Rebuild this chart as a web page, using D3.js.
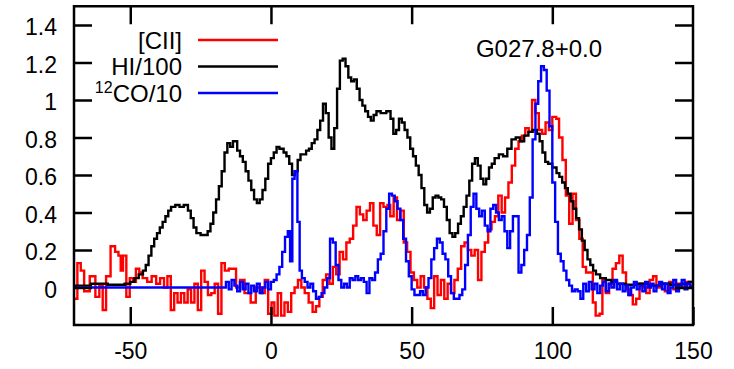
<!DOCTYPE html>
<html>
<head>
<meta charset="utf-8">
<script src="https://cdn.jsdelivr.net/npm/d3@7"></script>
<style>
  body { margin: 0; background: #fff; }
  text { font-family: "Liberation Sans", Arial, sans-serif; fill: #000; }
</style>
</head>
<body>
<svg id="chart"></svg>
<script>
// tick values / labels
const xTicks = [-50, 0, 50, 100, 150];
const xTickLabels = ["-50", "0", "50", "100", "150"];
const yTicks = [0, 0.2, 0.4, 0.6, 0.8, 1, 1.2, 1.4];
const yTickLabels = ["0", "0.2", "0.4", "0.6", "0.8", "1", "1.2", "1.4"];
const title = "G027.8+0.0";

// HI/100 (black) - channel start velocity, value
const hiVel = [-70, -64, -58, -52, -50, -48.5, -47, -45.5, -44.5, -43.5, -42.5, -41.5, -40.5, -39.5, -38.5, -37.5, -36.5, -35.5, -34, -32.5, -31, -29.5, -28.5, -27.5, -26.5, -25, -23.5, -22.5, -21.5, -20.5, -19.5, -18.5, -17.5, -16.5, -15.5, -14.5, -13.5, -12, -11, -10, -9, -8, -7, -6, -5, -4, -3, -2, -1, 0, 1, 2, 3, 4.5, 5.5, 6.5, 7.5, 8.5, 9.5, 10.5, 11.5, 12.5, 13.5, 14.5, 15.5, 16.5, 17.5, 18.5, 19.5, 20.5, 21.5, 22.5, 23.5, 24.5, 25.5, 26.5, 27.5, 28.5, 29.5, 30.5, 31.5, 32.5, 33.5, 34.5, 35.5, 36.5, 37.5, 39, 41, 42.5, 43.5, 44.5, 45.5, 46.5, 47.5, 48.5, 49.5, 50.5, 51.5, 52.5, 53.5, 54.5, 55.5, 56.5, 57.5, 58.5, 59.5, 60.5, 61.5, 62.5, 63.5, 64.5, 65.5, 66.5, 67.5, 68.5, 69.5, 70.5, 71.5, 72.5, 73.5, 74.5, 75.5, 76.5, 77.5, 78.5, 79.5, 81, 82.5, 84, 85.5, 87, 88.5, 90, 91.5, 93, 94.5, 95.5, 96.5, 97.5, 98.5, 100, 101.5, 102.5, 103.5, 104.5, 105.5, 106.5, 107.5, 108.5, 109.5, 110.5, 111.5, 112.5, 113.5, 114.5, 115.5, 117, 119, 121, 123, 126, 130, 134, 138, 142, 146, 148.5, 150];
const hiVal = [0.01, 0.02, 0.015, 0.02, 0.03, 0.05, 0.07, 0.09, 0.12, 0.17, 0.22, 0.26, 0.29, 0.32, 0.35, 0.38, 0.41, 0.43, 0.44, 0.43, 0.44, 0.41, 0.37, 0.32, 0.29, 0.28, 0.28, 0.30, 0.34, 0.40, 0.47, 0.54, 0.62, 0.72, 0.77, 0.75, 0.78, 0.73, 0.70, 0.67, 0.62, 0.57, 0.52, 0.47, 0.45, 0.47, 0.52, 0.58, 0.66, 0.69, 0.72, 0.75, 0.74, 0.72, 0.70, 0.66, 0.60, 0.62, 0.68, 0.71, 0.71, 0.73, 0.74, 0.77, 0.79, 0.84, 0.89, 0.98, 0.93, 0.80, 0.74, 0.85, 1.06, 1.21, 1.22, 1.18, 1.12, 1.10, 1.11, 1.06, 1.00, 0.97, 0.94, 0.91, 0.89, 0.92, 0.94, 0.93, 0.94, 0.90, 0.82, 0.84, 0.90, 0.88, 0.84, 0.80, 0.74, 0.70, 0.65, 0.60, 0.53, 0.44, 0.40, 0.42, 0.48, 0.49, 0.48, 0.47, 0.43, 0.36, 0.29, 0.27, 0.29, 0.34, 0.38, 0.43, 0.49, 0.57, 0.66, 0.69, 0.65, 0.58, 0.55, 0.58, 0.64, 0.66, 0.69, 0.71, 0.70, 0.74, 0.79, 0.80, 0.78, 0.81, 0.83, 0.84, 0.82, 0.78, 0.72, 0.67, 0.66, 0.64, 0.61, 0.59, 0.56, 0.53, 0.50, 0.46, 0.42, 0.37, 0.31, 0.25, 0.20, 0.15, 0.12, 0.09, 0.07, 0.05, 0.04, 0.03, 0.02, 0.015, 0.02, 0.01, 0.02, 0.015, 0.02, 0.03, 0.03];

// 12CO/10 (blue)
const coVel = [-70, -16, -15, -14, -13, -12, -11, -10, -9, -8, -7, -6, -5, -4, -3, -2, -1, 0, 1, 2, 3, 4, 5, 6, 6.8, 7.6, 8.4, 9.4, 10.2, 11, 12, 13, 14, 15, 16, 17, 18, 19, 20, 21, 22, 23, 24, 25, 26, 27, 28, 29, 30, 31, 32, 33, 34, 35, 36, 37, 38, 39, 40, 41, 42, 43, 44, 45, 46, 47, 48, 49, 50, 51, 52, 53, 54, 55, 56, 57, 58, 59, 60, 61, 62, 63, 64, 65, 66, 67, 68, 69, 70, 71, 72, 73, 74, 75, 76, 77, 78, 79, 80, 81, 82, 83, 84, 85, 86, 87, 88, 89, 90, 91, 92, 93, 94, 95, 96, 97, 98, 99, 100, 101, 102, 103, 104, 105, 106, 107, 108, 109, 110, 111, 112, 113, 114, 115, 116, 117, 118, 119, 120, 121, 122, 123, 124, 125, 126, 127, 128, 129, 130, 131, 132, 133, 134, 135, 136, 137, 138, 139, 140, 141, 142, 143, 144, 145, 146, 147, 148, 149, 150];
const coVal = [0, 0.03, -0.01, 0.04, 0.01, -0.02, 0.03, -0.01, 0.02, -0.03, 0.01, -0.02, 0.02, -0.03, 0.0, 0.03, -0.01, 0.03, 0.04, 0.07, 0.11, 0.19, 0.27, 0.30, 0.14, 0.58, 0.62, 0.35, 0.09, 0.05, 0.03, 0.0, 0.02, -0.02, -0.06, -0.05, -0.03, 0.0, 0.05, 0.26, 0.24, 0.12, 0.04, 0.0, 0.02, 0.0, 0.05, 0.04, 0.06, 0.04, 0.05, 0.03, -0.03, 0.05, 0.04, 0.08, 0.15, 0.18, 0.30, 0.42, 0.50, 0.49, 0.46, 0.42, 0.36, 0.26, 0.14, 0.06, -0.01, -0.04, -0.04, -0.02, -0.04, 0.0, 0.05, 0.15, 0.21, 0.26, 0.24, 0.18, 0.15, 0.06, -0.03, -0.06, -0.06, -0.04, -0.01, 0.12, 0.28, 0.43, 0.50, 0.42, 0.38, 0.41, 0.33, 0.30, 0.42, 0.44, 0.40, 0.36, 0.38, 0.30, 0.21, 0.30, 0.38, 0.38, 0.08, 0.12, 0.20, 0.28, 0.48, 0.79, 0.98, 1.10, 1.18, 1.16, 1.05, 0.86, 0.56, 0.35, 0.18, 0.14, 0.09, 0.04, 0.01, -0.02, -0.01, -0.02, -0.06, 0.02, -0.02, 0.03, -0.01, 0.02, -0.03, 0.01, 0.03, -0.02, 0.02, 0.0, 0.04, -0.01, 0.02, -0.02, 0.01, -0.04, 0.0, 0.03, -0.01, 0.01, -0.02, 0.03, 0.0, 0.02, -0.02, 0.01, 0.03, -0.01, 0.02, -0.03, 0.0, 0.04, -0.02, 0.01, 0.04, -0.01, 0.02, 0.0, 0.0];

// [CII] (red)
const ciiVel = [-70, -68.8, -67.6, -66.4, -64.4, -62.4, -61, -59.8, -58.6, -57, -55.4, -54.2, -53.4, -52.6, -51.4, -50.2, -49, -48, -46.8, -45.6, -44, -42.4, -40.8, -39.4, -38, -36.8, -35.6, -34.4, -33.2, -32, -30.8, -29.6, -28.4, -27.2, -26, -24.8, -23.6, -22.4, -21.2, -20, -18.8, -17.6, -16.4, -15, -12.4, -11, -9.4, -7.2, -5.4, -3.4, -2.2, -1, 0.2, 1.2, 2.4, 3.6, 4.8, 6, 7.2, 8.4, 9.6, 10.8, 12, 13.4, 14.8, 16, 17.2, 18.4, 19.6, 20.8, 22, 23.2, 24.4, 25.6, 26.8, 28, 29.2, 30.4, 31.6, 32.8, 34, 35.2, 36.4, 37.6, 38.8, 40, 41.4, 42.4, 43.6, 44.8, 46, 47.2, 48.4, 49.6, 50.8, 52, 53.2, 54.4, 55.6, 56.8, 58, 59.2, 60.4, 61.6, 62.8, 64, 65.2, 66.4, 67.6, 68.8, 70, 71.2, 72.4, 73.6, 74.8, 76, 77.2, 78.4, 79.6, 80.8, 82, 83.2, 84.4, 85.6, 86.8, 88, 89.2, 90.4, 91.6, 92.8, 94, 95.2, 96.4, 97.6, 98.8, 100, 101.4, 102.4, 103.6, 104.8, 106, 107.2, 108.4, 109.6, 110.8, 112, 113.2, 114.4, 115.4, 116.8, 117.8, 119, 120.2, 121.4, 122.6, 123.8, 125, 126.2, 127.4, 128.6, 129.8, 131, 132.2, 133.4, 134.6, 135.8, 137, 138.5, 140, 141.5, 143, 144.5, 146, 147.5, 149, 150];
const ciiVal = [-0.06, 0.13, 0.09, -0.02, 0.06, -0.05, 0.01, -0.12, 0.06, 0.22, 0.19, 0.17, 0.09, 0.17, -0.05, 0.05, 0.03, 0.10, 0.08, 0.05, 0.03, 0.06, 0.02, 0.05, 0.0, 0.06, -0.12, -0.03, -0.08, -0.03, -0.08, -0.01, -0.08, 0.02, -0.12, 0.09, 0.03, -0.04, -0.03, 0.02, -0.14, 0.13, 0.09, 0.10, 0.0, 0.04, -0.03, -0.08, 0.0, -0.03, 0.04, -0.14, -0.08, -0.15, -0.03, -0.15, -0.08, -0.13, -0.03, 0.0, 0.04, 0.0, -0.03, -0.08, -0.13, -0.10, -0.05, 0.04, 0.07, 0.02, 0.11, 0.07, 0.19, 0.15, 0.24, 0.26, 0.33, 0.43, 0.39, 0.36, 0.41, 0.45, 0.33, 0.28, 0.45, 0.43, 0.44, 0.38, 0.48, 0.36, 0.41, 0.24, 0.19, 0.08, 0.04, 0.0, 0.06, 0.0, -0.06, -0.11, 0.06, -0.04, 0.04, -0.06, 0.02, -0.03, 0.04, 0.10, 0.22, 0.24, 0.20, 0.17, 0.20, 0.04, 0.19, 0.24, 0.31, 0.35, 0.38, 0.49, 0.40, 0.48, 0.56, 0.65, 0.74, 0.78, 0.81, 0.85, 0.83, 1.0, 0.93, 0.84, 0.82, 0.88, 0.84, 0.91, 0.90, 0.80, 0.68, 0.49, 0.34, 0.50, 0.36, 0.26, 0.11, 0.08, 0.08, -0.08, -0.15, -0.14, 0.04, -0.03, 0.02, 0.10, 0.13, 0.17, 0.08, -0.01, -0.04, -0.09, -0.06, 0.02, 0.0, -0.03, 0.04, 0.06, 0.0, 0.02, -0.02, 0.03, -0.01, 0.02, 0.0, 0.03, 0.01, 0.01];

const seriesNames = ["[CII]", "HI/100", "12CO/10"];
const seriesColors = ["#f00", "#000", "#00f"];

const width = 734, height = 369;
const plot = { left: 74, right: 693, top: 6.25, bottom: 325 };

const svg = d3.select("#chart")
    .attr("width", width)
    .attr("height", height);

const x = d3.scaleLinear()
    .domain([-70, 150])
    .range([plot.left, plot.right]);

const y = d3.scaleLinear()
    .domain([-0.2, 1.5])
    .range([plot.bottom, plot.top]);

svg.append("clipPath")
    .attr("id", "clip")
    .append("rect")
    .attr("x", plot.left).attr("y", plot.top)
    .attr("width", plot.right - plot.left)
    .attr("height", plot.bottom - plot.top);

const series = [
    d3.zip(ciiVel, ciiVal),
    d3.zip(hiVel, hiVal),
    d3.zip(coVel, coVal)
];

const line = d3.line()
    .x(d => x(d[0]))
    .y(d => y(d[1]))
    .curve(d3.curveStepAfter);

svg.append("g")
    .attr("clip-path", "url(#clip)")
    .selectAll("path")
    .data(series)
    .join("path")
    .attr("d", line)
    .attr("fill", "none")
    .attr("stroke", (d, i) => seriesColors[i])
    .attr("stroke-width", 2.4)
    .attr("stroke-linejoin", "miter");

// axes: inward ticks, mirrored on top/right
const tickLen = 18;
const fontSize = 23;

const xAxis = svg.append("g")
    .attr("transform", `translate(0,${plot.bottom})`)
    .call(d3.axisBottom(x)
        .tickValues(xTicks)
        .tickFormat((d, i) => xTickLabels[i])
        .tickSize(-tickLen)
        .tickPadding(21));

const yAxis = svg.append("g")
    .attr("transform", `translate(${plot.left},0)`)
    .call(d3.axisLeft(y)
        .tickValues(yTicks)
        .tickFormat((d, i) => yTickLabels[i])
        .tickSize(-tickLen)
        .tickPadding(17));

svg.append("g")
    .attr("transform", `translate(0,${plot.top})`)
    .call(d3.axisTop(x).tickValues(xTicks.slice(0, 4)).tickFormat("").tickSize(-tickLen));

svg.append("g")
    .attr("transform", `translate(${plot.right},0)`)
    .call(d3.axisRight(y).tickValues(yTicks).tickFormat("").tickSize(-tickLen));

svg.selectAll(".domain").remove();
svg.selectAll(".tick line").attr("stroke", "#000").attr("stroke-width", 2.5);
svg.selectAll(".tick text")
    .style("font-family", "'Liberation Sans', Arial, sans-serif")
    .style("font-size", fontSize + "px")
    .attr("fill", "#000");
yAxis.selectAll(".tick text").attr("dy", "0.42em");
xAxis.selectAll(".tick text").attr("dy", "0.55em");

// frame
svg.append("rect")
    .attr("x", plot.left).attr("y", plot.top)
    .attr("width", plot.right - plot.left)
    .attr("height", plot.bottom - plot.top)
    .attr("fill", "none")
    .attr("stroke", "#000")
    .attr("stroke-width", 2.5);

// legend
const legendY = [40, 66.5, 93];
const legend = svg.append("g");
seriesNames.forEach((name, i) => {
    const t = legend.append("text")
        .attr("x", 182)
        .attr("y", legendY[i] + 8.5)
        .attr("text-anchor", "end")
        .style("font-size", "24px");
    if (name.startsWith("12")) {
        t.append("tspan").text("12").style("font-size", "16px").attr("dy", -9);
        t.append("tspan").text(name.slice(2)).attr("dy", 9);
    } else {
        t.text(name);
    }
    legend.append("line")
        .attr("x1", 198).attr("x2", 278)
        .attr("y1", legendY[i]).attr("y2", legendY[i])
        .attr("stroke", seriesColors[i])
        .attr("stroke-width", 2.4);
});

svg.append("text")
    .attr("x", 539)
    .attr("y", 57)
    .attr("text-anchor", "middle")
    .style("font-size", "24px")
    .text(title);
</script>
</body>
</html>
